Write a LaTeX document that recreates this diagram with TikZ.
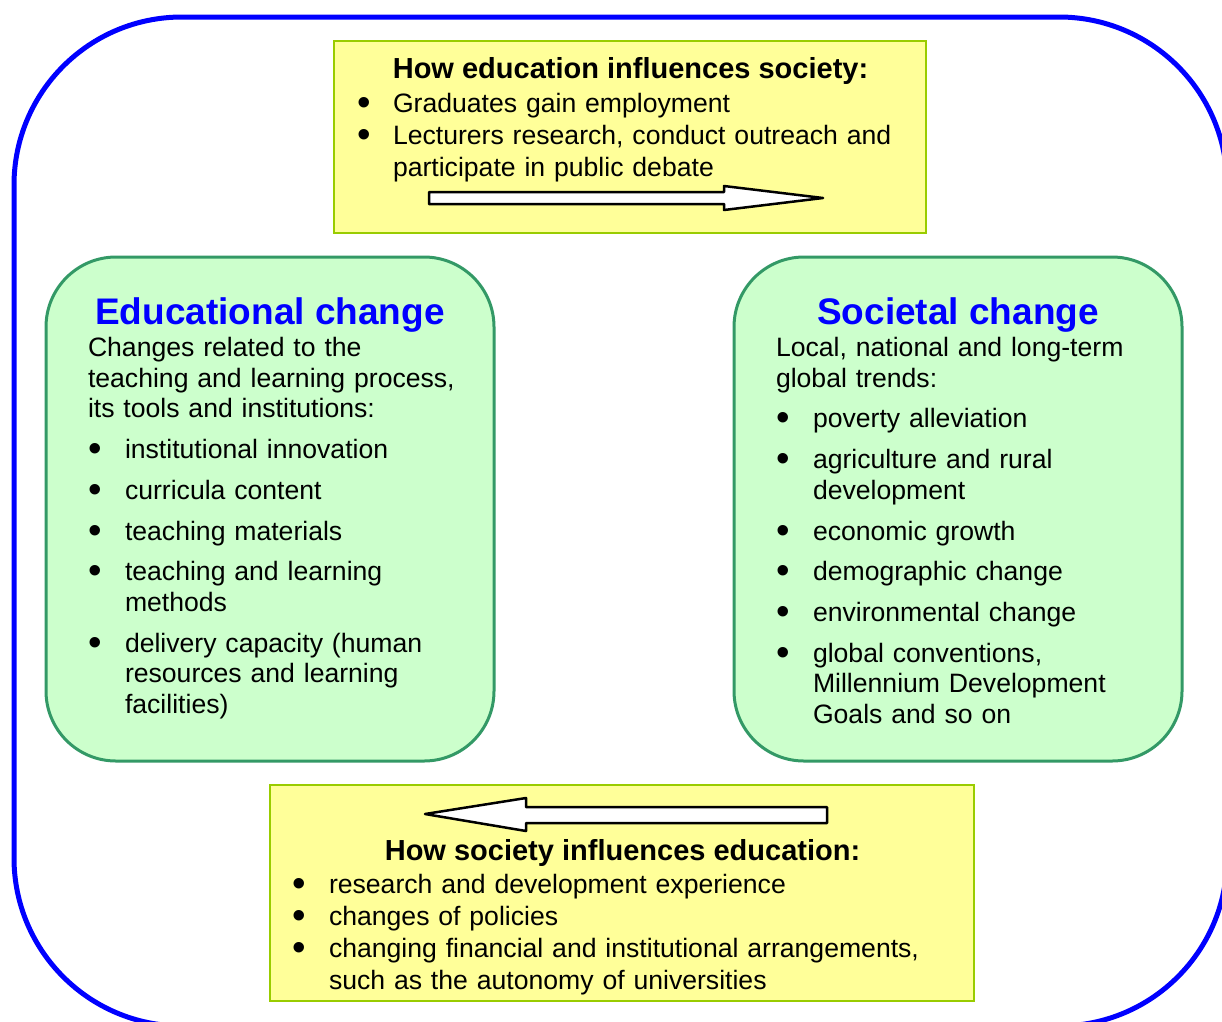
\documentclass[tikz,border=0pt]{standalone}
\usepackage{fontspec}
\setmainfont{Liberation Sans}
\definecolor{gfill}{HTML}{CCFFCC}
\definecolor{gline}{HTML}{339966}
\definecolor{yfill}{HTML}{FFFF99}
\definecolor{yline}{HTML}{99CC00}
\definecolor{hblue}{HTML}{0000FF}
\newcommand\bodyfs{\fontsize{26.6}{30.7}\selectfont}
\newcommand\titlefs{\fontsize{29}{34}\selectfont\bfseries}
\newcommand\headfs{\fontsize{37}{44}\selectfont\bfseries}
\newcommand\firststrut{\rule{0pt}{22pt}}
\newcommand\nl{\unskip\nobreak\hfil\break}
\newcommand\bigbullet{\raisebox{-3pt}{\scalebox{1.45}{\textbullet}}}
\newcommand\bitem[1]{\par\hangindent=#1\relax\hangafter=1\noindent\makebox[#1][l]{\hspace{0.5pt}\bigbullet}}
\begin{document}
\begin{tikzpicture}[x=1pt,y=-1pt,
  outerbox/.style={draw=hblue, line width=5pt, rounded corners=168pt},
  gbox/.style={draw=gline, fill=gfill, line width=3pt, rounded corners=70pt, inner sep=0pt},
  ybox/.style={draw=yline, fill=yfill, line width=2pt, inner sep=0pt},
  arrowshape/.style={draw=black, fill=white, line width=2.5pt, line join=round},
  txt/.style={inner sep=0pt, outer sep=0pt, font=\bodyfs},
  ttl/.style={inner sep=0pt, outer sep=0pt, font=\titlefs, anchor=base},
  head/.style={inner sep=0pt, outer sep=0pt, font=\headfs, text=hblue, anchor=base}]
\useasboundingbox (0,0) rectangle (1222,1021);
\clip (0,0) rectangle (1222,1021);
\fill[white] (0,0) rectangle (1222,1021);
\draw[outerbox] (14,17) rectangle (1227,1026);

% top yellow box
\node[ybox, minimum width=592pt, minimum height=192pt] (topbox) at (630,137) {};
\node[ttl] (toptitle) at (630.5,78) {How education influences society:};
\node[txt, anchor=north west, text width=560pt] (toplist) at (357,81)
 {\fontsize{26.6}{31.8}\selectfont\setlength\parskip{0pt}\raggedright
  \bitem{36pt}\firststrut Graduates gain employment
  \bitem{36pt}Lecturers research, conduct outreach and\nl participate in public debate\par};
\coordinate (ta1) at (429,192);
\coordinate (ta2) at (823,198);
\draw[arrowshape] (ta1) -- (724,192) -- (724,186) -- (ta2) -- (724,210) -- (724,204) -- (429,204) -- cycle;

% left green box
\node[gbox, minimum width=448pt, minimum height=504pt] (edu) at (270,509) {};
\node[head] (eduhead) at (270,324) {Educational change};
\node[txt, anchor=north west, text width=400pt] (edutext) at (88,334.5)
 {\setlength\parskip{10pt}\raggedright\noindent\firststrut Changes related to the\nl teaching and learning process,\nl its tools and institutions:
  \bitem{37pt}institutional innovation
  \bitem{37pt}curricula content
  \bitem{37pt}teaching materials
  \bitem{37pt}teaching and learning\nl methods
  \bitem{37pt}delivery capacity (human\nl resources and learning\nl facilities)\par};

% right green box
\node[gbox, minimum width=448pt, minimum height=504pt] (soc) at (958,509) {};
\node[head] (sochead) at (958,324) {Societal change};
\node[txt, anchor=north west, text width=400pt] (soctext) at (776,334.5)
 {\setlength\parskip{10pt}\raggedright\noindent\firststrut Local, national and long-term\nl global trends:
  \bitem{37pt}poverty alleviation
  \bitem{37pt}agriculture and rural\nl development
  \bitem{37pt}economic growth
  \bitem{37pt}demographic change
  \bitem{37pt}environmental change
  \bitem{37pt}global conventions,\nl Millennium Development\nl Goals and so on\par};

% bottom yellow box
\node[ybox, minimum width=704pt, minimum height=216pt] (botbox) at (622,893) {};
\coordinate (ba1) at (827,807);
\coordinate (ba2) at (425,814);
\draw[arrowshape] (ba1) -- (526,807) -- (526,798) -- (ba2) -- (526,831) -- (526,823) -- (827,823) -- cycle;
\node[ttl] (bottitle) at (622.5,860) {How society influences education:};
\node[txt, anchor=north west, text width=660pt] (botlist) at (292,861)
 {\fontsize{26.6}{32}\selectfont\setlength\parskip{0pt}\raggedright
  \bitem{37pt}\firststrut research and development experience
  \bitem{37pt}changes of policies
  \bitem{37pt}changing financial and institutional arrangements,\nl such as the autonomy of universities\par};
\end{tikzpicture}
\end{document}
